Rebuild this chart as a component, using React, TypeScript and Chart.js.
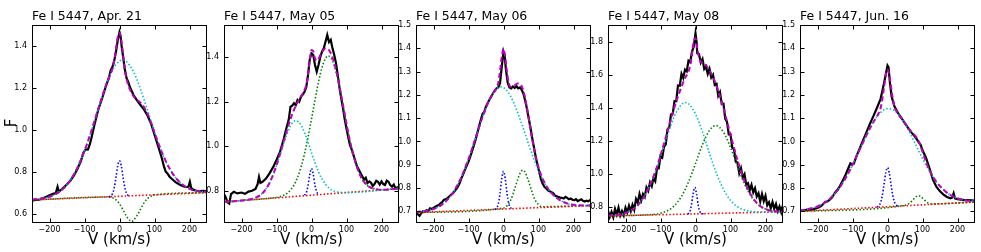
import React, { useEffect, useRef } from "react";
import { Chart, registerables } from "chart.js";

Chart.register(...registerables);

type Pt = [number, number];

// ---------- shared axis data ----------
const vTicks = [-200, -100, 0, 100, 200];
const vMin = -250;
const vMax = 250;
const xLabel = "V (km/s)";
const yLabel = "F";

// ---------- Apr. 21 ----------
const apr21Title = "Fe I 5447, Apr. 21";
const apr21FTicks = [0.6, 0.8, 1.0, 1.2, 1.4];
const apr21Range: Pt = [0.555, 1.5];
const apr21Obs: Pt[] = [
  [-250, 0.662], [-240, 0.665], [-230, 0.666], [-220, 0.673], [-210, 0.679], [-200, 0.687], [-190, 0.694],
  [-182, 0.698], [-177, 0.728], [-173, 0.704], [-165, 0.716], [-158, 0.727], [-150, 0.74], [-140, 0.758],
  [-130, 0.782], [-120, 0.814], [-110, 0.852], [-103, 0.892], [-97, 0.905], [-90, 0.906], [-85, 0.93],
  [-80, 0.962], [-70, 1.035], [-60, 1.1], [-50, 1.148], [-40, 1.202], [-30, 1.25], [-25, 1.285], [-20, 1.3],
  [-15, 1.33], [-10, 1.372], [-5, 1.428], [0, 1.466], [3, 1.448], [6, 1.4], [10, 1.352], [15, 1.29],
  [20, 1.247], [25, 1.228], [30, 1.203], [40, 1.166], [50, 1.14], [60, 1.118], [70, 1.096], [80, 1.068],
  [90, 1.03], [100, 0.976], [110, 0.924], [120, 0.87], [127, 0.825], [132, 0.8], [137, 0.792], [143, 0.776],
  [150, 0.765], [160, 0.75], [170, 0.74], [180, 0.732], [190, 0.726], [197, 0.728], [201, 0.752], [205, 0.722],
  [212, 0.713], [220, 0.709], [230, 0.707], [240, 0.708], [250, 0.706],
];
const apr21Fit: Pt[] = [
  [-250, 0.666], [-200, 0.68], [-180, 0.695], [-160, 0.72], [-140, 0.76], [-120, 0.82], [-100, 0.899],
  [-80, 0.996], [-60, 1.104], [-40, 1.206], [-30, 1.247], [-20, 1.293], [-15, 1.331], [-10, 1.388],
  [-5, 1.443], [0, 1.462], [5, 1.429], [10, 1.361], [15, 1.292], [20, 1.244], [30, 1.191], [40, 1.16],
  [50, 1.143], [60, 1.129], [70, 1.109], [80, 1.077], [90, 1.034], [100, 0.987], [120, 0.897], [140, 0.824],
  [160, 0.772], [180, 0.739], [200, 0.718], [220, 0.708], [250, 0.703],
];
const apr21Broad: Pt[] = [
  [-250, 0.666], [-200, 0.68], [-180, 0.695], [-160, 0.72], [-140, 0.76], [-120, 0.82], [-100, 0.899],
  [-80, 0.996], [-60, 1.104], [-40, 1.206], [-20, 1.286], [0, 1.328], [10, 1.333], [20, 1.325], [40, 1.277],
  [60, 1.194], [80, 1.093], [100, 0.989], [120, 0.897], [140, 0.824], [160, 0.772], [180, 0.739], [200, 0.718],
  [220, 0.708], [250, 0.703],
];
const apr21Narrow: Pt[] = [
  [-30, 0.68], [-25, 0.684], [-20, 0.695], [-15, 0.723], [-10, 0.774], [-5, 0.828], [0, 0.852], [5, 0.829],
  [10, 0.775], [15, 0.725], [20, 0.697], [25, 0.686], [30, 0.684],
];
const apr21Third: Pt[] = [
  [-250, 0.665], [-40, 0.679], [-20, 0.675], [-10, 0.665], [0, 0.646], [10, 0.618], [20, 0.587], [30, 0.567],
  [35, 0.562], [40, 0.568], [50, 0.59], [60, 0.621], [70, 0.651], [80, 0.672], [90, 0.682], [100, 0.689],
  [250, 0.7],
];
const apr21Cont: Pt[] = [[-250, 0.665], [250, 0.7]];

// ---------- May 05 ----------
const may05Title = "Fe I 5447, May 05";
const may05FTicks = [0.8, 1.0, 1.2, 1.4];
const may05Range: Pt = [0.655, 1.545];
const may05Obs: Pt[] = [
  [-250, 0.785], [-245, 0.77], [-240, 0.748], [-235, 0.742], [-230, 0.785], [-222, 0.795], [-212, 0.788],
  [-200, 0.792], [-190, 0.786], [-180, 0.796], [-170, 0.8], [-160, 0.808], [-154, 0.83], [-150, 0.862],
  [-146, 0.835], [-140, 0.84], [-130, 0.855], [-120, 0.878], [-110, 0.905], [-100, 0.938], [-90, 0.975],
  [-80, 1.028], [-72, 1.08], [-65, 1.12], [-60, 1.178], [-55, 1.182], [-50, 1.193], [-45, 1.185], [-40, 1.208],
  [-35, 1.2], [-30, 1.223], [-25, 1.232], [-20, 1.245], [-15, 1.265], [-10, 1.32], [-5, 1.39], [0, 1.418],
  [5, 1.41], [10, 1.365], [15, 1.335], [20, 1.365], [25, 1.4], [30, 1.425], [35, 1.44], [40, 1.47], [45, 1.5],
  [50, 1.468], [55, 1.478], [60, 1.44], [65, 1.41], [70, 1.373], [75, 1.32], [80, 1.262], [85, 1.215],
  [90, 1.17], [95, 1.12], [100, 1.08], [105, 1.04], [110, 1.005], [115, 0.985], [120, 0.96], [125, 0.935],
  [130, 0.91], [140, 0.88], [150, 0.85], [155, 0.858], [160, 0.835], [165, 0.842], [170, 0.836], [175, 0.822],
  [180, 0.83], [185, 0.845], [190, 0.84], [195, 0.828], [200, 0.842], [205, 0.83], [210, 0.826], [215, 0.845],
  [220, 0.84], [225, 0.825], [230, 0.818], [235, 0.828], [240, 0.81], [245, 0.815], [250, 0.803],
];
const may05Fit: Pt[] = [
  [-250, 0.75], [-200, 0.756], [-160, 0.769], [-140, 0.789], [-120, 0.835], [-100, 0.914], [-80, 1.019],
  [-60, 1.122], [-50, 1.164], [-40, 1.197], [-30, 1.224], [-20, 1.253], [-15, 1.275], [-10, 1.322],
  [-5, 1.388], [0, 1.433], [5, 1.426], [10, 1.395], [15, 1.385], [20, 1.393], [30, 1.423], [40, 1.439],
  [50, 1.432], [60, 1.399], [70, 1.343], [80, 1.27], [90, 1.186], [100, 1.1], [110, 1.023], [120, 0.957],
  [140, 0.866], [160, 0.823], [180, 0.809], [200, 0.804], [250, 0.81],
];
const may05Broad: Pt[] = [
  [-250, 0.75], [-200, 0.756], [-160, 0.769], [-140, 0.789], [-120, 0.835], [-100, 0.912], [-80, 1.011],
  [-60, 1.092], [-45, 1.115], [-30, 1.095], [-10, 1.019], [0, 0.971], [10, 0.925], [20, 0.885], [30, 0.853],
  [50, 0.812], [70, 0.796], [100, 0.792], [250, 0.81],
];
const may05Narrow: Pt[] = [
  [-20, 0.78], [-15, 0.79], [-10, 0.822], [-5, 0.872], [0, 0.9], [5, 0.874], [10, 0.824], [15, 0.794], [20, 0.784],
];
const may05Third: Pt[] = [
  [-250, 0.75], [-200, 0.756], [-150, 0.762], [-120, 0.766], [-100, 0.77], [-80, 0.779], [-60, 0.803],
  [-40, 0.859], [-20, 0.966], [0, 1.122], [10, 1.208], [20, 1.289], [30, 1.354], [40, 1.395], [48, 1.406],
  [60, 1.384], [70, 1.335], [80, 1.266], [90, 1.184], [100, 1.1], [110, 1.023], [120, 0.957], [140, 0.866],
  [160, 0.823], [180, 0.809], [200, 0.804], [250, 0.81],
];
const may05Cont: Pt[] = [[-250, 0.75], [250, 0.81]];

// ---------- May 06 ----------
const may06Title = "Fe I 5447, May 06";
const may06FTicks = [0.7, 0.8, 0.9, 1.0, 1.1, 1.2, 1.3, 1.4, 1.5];
const may06Range: Pt = [0.65, 1.5];
const may06Obs: Pt[] = [
  [-250, 0.693], [-245, 0.688], [-240, 0.681], [-235, 0.692], [-230, 0.7], [-225, 0.698], [-220, 0.705],
  [-215, 0.702], [-210, 0.713], [-205, 0.71], [-200, 0.715], [-195, 0.72], [-190, 0.724], [-185, 0.727],
  [-180, 0.734], [-175, 0.74], [-170, 0.75], [-165, 0.752], [-160, 0.757], [-155, 0.764], [-150, 0.771],
  [-145, 0.777], [-140, 0.786], [-135, 0.795], [-130, 0.807], [-125, 0.823], [-120, 0.843], [-115, 0.86],
  [-110, 0.879], [-105, 0.897], [-100, 0.914], [-95, 0.935], [-90, 0.957], [-85, 0.982], [-80, 1.007],
  [-75, 1.035], [-70, 1.064], [-65, 1.092], [-60, 1.118], [-55, 1.127], [-50, 1.15], [-45, 1.165],
  [-40, 1.18], [-35, 1.193], [-30, 1.207], [-25, 1.218], [-20, 1.228], [-15, 1.232], [-10, 1.25], [-5, 1.32],
  [0, 1.386], [3, 1.372], [7, 1.308], [12, 1.252], [17, 1.232], [22, 1.228], [27, 1.236], [32, 1.23],
  [37, 1.238], [42, 1.228], [47, 1.232], [52, 1.222], [57, 1.205], [62, 1.175], [67, 1.14], [72, 1.1],
  [77, 1.06], [82, 1.015], [87, 0.975], [92, 0.935], [97, 0.9], [102, 0.87], [107, 0.838], [112, 0.818],
  [117, 0.805], [122, 0.798], [127, 0.79], [132, 0.786], [137, 0.782], [142, 0.778], [147, 0.768],
  [152, 0.765], [157, 0.762], [162, 0.759], [167, 0.758], [172, 0.755], [177, 0.762], [182, 0.758],
  [187, 0.752], [192, 0.755], [197, 0.75], [202, 0.748], [207, 0.752], [212, 0.744], [217, 0.748],
  [222, 0.752], [227, 0.745], [232, 0.742], [237, 0.746], [242, 0.743], [247, 0.748], [250, 0.752],
];
const may06Fit: Pt[] = [
  [-250, 0.696], [-200, 0.71], [-175, 0.73], [-150, 0.768], [-125, 0.832], [-100, 0.925], [-80, 1.014],
  [-60, 1.104], [-40, 1.18], [-20, 1.23], [-15, 1.252], [-10, 1.301], [-5, 1.363], [0, 1.397], [5, 1.362],
  [10, 1.298], [15, 1.251], [20, 1.235], [30, 1.239], [40, 1.249], [50, 1.243], [60, 1.199], [70, 1.119],
  [80, 1.028], [90, 0.947], [100, 0.888], [110, 0.847], [120, 0.815], [140, 0.774], [160, 0.749],
  [180, 0.735], [200, 0.728], [250, 0.725],
];
const may06Broad: Pt[] = [
  [-250, 0.696], [-200, 0.71], [-175, 0.73], [-150, 0.768], [-125, 0.832], [-100, 0.925], [-80, 1.014],
  [-60, 1.104], [-40, 1.18], [-20, 1.225], [-8, 1.234], [0, 1.231], [10, 1.218], [20, 1.195], [30, 1.164],
  [40, 1.126], [50, 1.085], [60, 1.041], [70, 0.996], [80, 0.953], [90, 0.912], [100, 0.875], [120, 0.815],
  [140, 0.774], [160, 0.749], [200, 0.728], [250, 0.725],
];
const may06Narrow: Pt[] = [
  [-25, 0.709], [-20, 0.713], [-15, 0.731], [-10, 0.776], [-5, 0.84], [0, 0.872], [5, 0.84], [10, 0.778],
  [15, 0.733], [20, 0.716], [25, 0.712],
];
const may06Third: Pt[] = [
  [-250, 0.695], [0, 0.714], [10, 0.724], [20, 0.746], [30, 0.787], [40, 0.835], [50, 0.871], [55, 0.876],
  [60, 0.872], [70, 0.837], [80, 0.79], [90, 0.75], [100, 0.729], [110, 0.72], [250, 0.725],
];
const may06Cont: Pt[] = [[-250, 0.695], [250, 0.725]];

// ---------- May 08 ----------
const may08Title = "Fe I 5447, May 08";
const may08FTicks = [0.8, 1.0, 1.2, 1.4, 1.6, 1.8];
const may08Range: Pt = [0.705, 1.9];
const may08Obs: Pt[] = [
  [-250, 0.78], [-245, 0.741], [-240, 0.772], [-235, 0.74], [-230, 0.79], [-225, 0.756], [-220, 0.798],
  [-215, 0.75], [-210, 0.777], [-205, 0.75], [-200, 0.798], [-195, 0.769], [-190, 0.81], [-185, 0.777],
  [-180, 0.815], [-175, 0.785], [-170, 0.85], [-165, 0.827], [-160, 0.88], [-155, 0.842], [-150, 0.88],
  [-145, 0.862], [-140, 0.92], [-135, 0.9], [-130, 0.95], [-125, 0.927], [-120, 0.975], [-115, 0.957],
  [-110, 1.035], [-105, 1.035], [-100, 1.11], [-95, 1.1], [-90, 1.165], [-85, 1.18], [-80, 1.27],
  [-75, 1.28], [-70, 1.36], [-65, 1.365], [-60, 1.44], [-55, 1.44], [-50, 1.535], [-45, 1.533], [-40, 1.605],
  [-35, 1.58], [-30, 1.63], [-25, 1.62], [-20, 1.685], [-15, 1.677], [-10, 1.74], [-5, 1.77], [0, 1.85],
  [3, 1.8], [5, 1.73], [10, 1.725], [15, 1.673], [20, 1.695], [25, 1.635], [30, 1.65], [35, 1.605],
  [40, 1.635], [45, 1.583], [50, 1.6], [55, 1.538], [60, 1.545], [65, 1.473], [70, 1.495], [75, 1.423],
  [80, 1.425], [85, 1.333], [90, 1.315], [95, 1.24], [100, 1.24], [105, 1.16], [110, 1.15], [115, 1.075],
  [120, 1.07], [125, 1.005], [130, 1.035], [135, 0.98], [140, 1.0], [145, 0.935], [150, 0.945], [155, 0.902],
  [160, 0.935], [165, 0.89], [170, 0.915], [175, 0.865], [180, 0.885], [185, 0.835], [190, 0.88],
  [195, 0.837], [200, 0.87], [205, 0.812], [210, 0.83], [215, 0.793], [220, 0.832], [225, 0.791],
  [230, 0.82], [235, 0.777], [240, 0.805], [245, 0.77], [250, 0.815],
];
const may08Fit: Pt[] = [
  [-250, 0.749], [-200, 0.765], [-180, 0.786], [-160, 0.824], [-140, 0.89], [-120, 0.986], [-100, 1.113],
  [-80, 1.259], [-60, 1.404], [-40, 1.528], [-30, 1.579], [-20, 1.619], [-15, 1.657], [-10, 1.724],
  [-5, 1.803], [0, 1.82], [5, 1.762], [10, 1.704], [15, 1.679], [20, 1.672], [30, 1.656], [40, 1.626],
  [50, 1.586], [60, 1.533], [70, 1.469], [80, 1.397], [90, 1.319], [100, 1.238], [110, 1.159], [120, 1.084],
  [140, 0.957], [160, 0.869], [180, 0.816], [200, 0.789], [225, 0.776], [250, 0.774],
];
const may08Broad: Pt[] = [
  [-250, 0.749], [-200, 0.765], [-180, 0.786], [-160, 0.824], [-140, 0.889], [-120, 0.983], [-100, 1.104],
  [-80, 1.236], [-60, 1.351], [-40, 1.42], [-29, 1.432], [-20, 1.425], [0, 1.363], [20, 1.254], [40, 1.124],
  [60, 1.003], [80, 0.908], [100, 0.842], [120, 0.803], [150, 0.778], [200, 0.771], [250, 0.773],
];
const may08Narrow: Pt[] = [
  [-22, 0.76], [-17, 0.77], [-12, 0.809], [-7, 0.879], [-2, 0.92], [3, 0.879], [8, 0.809], [13, 0.772],
  [18, 0.762], [23, 0.761],
];
const may08Third: Pt[] = [
  [-250, 0.748], [-200, 0.75], [-150, 0.753], [-120, 0.757], [-100, 0.764], [-80, 0.779], [-60, 0.81],
  [-40, 0.866], [-20, 0.953], [0, 1.064], [20, 1.179], [40, 1.264], [58, 1.293], [80, 1.253], [100, 1.161],
  [120, 1.047], [140, 0.941], [160, 0.863], [180, 0.814], [200, 0.789], [225, 0.776], [250, 0.774],
];
const may08Cont: Pt[] = [[-250, 0.7475], [250, 0.7725]];

// ---------- Jun. 16 ----------
const jun16Title = "Fe I 5447, Jun. 16";
const jun16FTicks = [0.7, 0.8, 0.9, 1.0, 1.1, 1.2, 1.3, 1.4, 1.5];
const jun16Range: Pt = [0.65, 1.5];
const jun16Obs: Pt[] = [
  [-250, 0.704], [-240, 0.702], [-230, 0.707], [-220, 0.706], [-210, 0.71], [-200, 0.714], [-190, 0.722],
  [-183, 0.733], [-178, 0.74], [-172, 0.742], [-165, 0.75], [-158, 0.76], [-150, 0.78], [-140, 0.798],
  [-130, 0.826], [-120, 0.856], [-112, 0.885], [-106, 0.906], [-101, 0.902], [-96, 0.905], [-90, 0.932],
  [-80, 0.968], [-70, 1.004], [-60, 1.04], [-50, 1.076], [-40, 1.11], [-30, 1.145], [-20, 1.182],
  [-15, 1.215], [-10, 1.25], [-5, 1.288], [0, 1.326], [3, 1.318], [7, 1.25], [12, 1.192], [20, 1.15],
  [30, 1.122], [40, 1.1], [50, 1.078], [60, 1.055], [70, 1.036], [80, 1.018], [90, 0.995], [95, 0.985],
  [100, 0.962], [110, 0.93], [120, 0.885], [130, 0.835], [140, 0.805], [150, 0.786], [160, 0.772],
  [170, 0.762], [180, 0.756], [185, 0.76], [189, 0.778], [193, 0.756], [200, 0.752], [210, 0.75],
  [220, 0.748], [230, 0.748], [240, 0.747], [250, 0.746],
];
const jun16Fit: Pt[] = [
  [-250, 0.703], [-200, 0.721], [-175, 0.742], [-150, 0.777], [-125, 0.829], [-100, 0.899], [-80, 0.963],
  [-60, 1.027], [-40, 1.084], [-30, 1.108], [-20, 1.142], [-15, 1.179], [-10, 1.231], [-5, 1.285], [0, 1.309],
  [5, 1.287], [10, 1.236], [15, 1.185], [20, 1.15], [30, 1.119], [40, 1.099], [50, 1.078], [60, 1.056],
  [70, 1.038], [80, 1.023], [90, 0.997], [100, 0.956], [110, 0.912], [120, 0.876], [140, 0.826], [160, 0.793],
  [180, 0.77], [200, 0.756], [225, 0.747], [250, 0.743],
];
const jun16Broad: Pt[] = [
  [-250, 0.703], [-200, 0.721], [-175, 0.742], [-150, 0.777], [-125, 0.829], [-100, 0.899], [-80, 0.963],
  [-60, 1.027], [-40, 1.084], [-20, 1.124], [0, 1.141], [20, 1.132], [40, 1.099], [60, 1.049], [80, 0.988],
  [100, 0.927], [120, 0.872], [140, 0.826], [160, 0.793], [180, 0.77], [200, 0.756], [225, 0.747], [250, 0.743],
];
const jun16Narrow: Pt[] = [
  [-30, 0.719], [-25, 0.723], [-20, 0.737], [-15, 0.767], [-10, 0.815], [-5, 0.866], [0, 0.888], [5, 0.866],
  [10, 0.817], [15, 0.769], [20, 0.74], [25, 0.727], [30, 0.723],
];
const jun16Third: Pt[] = [
  [-250, 0.7], [50, 0.726], [60, 0.732], [70, 0.745], [80, 0.761], [88, 0.767], [95, 0.764], [105, 0.749],
  [115, 0.737], [125, 0.732], [250, 0.74],
];
const jun16Cont: Pt[] = [[-250, 0.7], [250, 0.74]];

// ---------- panel table ----------
type PanelData = {
  title: string; fTicks: number[]; range: Pt; obs: Pt[]; fit: Pt[]; broad: Pt[];
  narrow: Pt[]; third: Pt[]; cont: Pt[]; showY: boolean;
};

const panels: PanelData[] = [
  { title: apr21Title, fTicks: apr21FTicks, range: apr21Range, obs: apr21Obs, fit: apr21Fit, broad: apr21Broad, narrow: apr21Narrow, third: apr21Third, cont: apr21Cont, showY: true },
  { title: may05Title, fTicks: may05FTicks, range: may05Range, obs: may05Obs, fit: may05Fit, broad: may05Broad, narrow: may05Narrow, third: may05Third, cont: may05Cont, showY: false },
  { title: may06Title, fTicks: may06FTicks, range: may06Range, obs: may06Obs, fit: may06Fit, broad: may06Broad, narrow: may06Narrow, third: may06Third, cont: may06Cont, showY: false },
  { title: may08Title, fTicks: may08FTicks, range: may08Range, obs: may08Obs, fit: may08Fit, broad: may08Broad, narrow: may08Narrow, third: may08Third, cont: may08Cont, showY: false },
  { title: jun16Title, fTicks: jun16FTicks, range: jun16Range, obs: jun16Obs, fit: jun16Fit, broad: jun16Broad, narrow: jun16Narrow, third: jun16Third, cont: jun16Cont, showY: false },
];

// ---------- layout ----------
const CANVAS_W = 213;
const CANVAS_H = 252;
const PANEL_STEP = 192;
const AXIS_W = 32;
const TOP = 25;
const X_AXIS_H = 29;
const FONT = '"DejaVu Sans", "Liberation Sans", sans-serif';

const fmtV = (v: number) => (v < 0 ? "\u2212" + Math.abs(v) : String(v));

const decorPlugin = {
  id: "decor",
  afterDraw(chart: any) {
    const cfg = chart.options.plugins.decor;
    const { ctx, chartArea: a, scales } = chart;
    ctx.save();
    ctx.strokeStyle = "#000";
    ctx.lineWidth = 1;
    const l = Math.round(a.left) + 0.5;
    const r = Math.round(a.right) - 0.5;
    const t = Math.round(a.top) + 0.5;
    const b = Math.round(a.bottom) - 0.5;
    ctx.beginPath();
    for (const v of cfg.xTicks) {
      const x = Math.round(scales.x.getPixelForValue(v)) + 0.5;
      ctx.moveTo(x, b); ctx.lineTo(x, b - 4);
      ctx.moveTo(x, t); ctx.lineTo(x, t + 4);
    }
    for (const v of cfg.yTicks) {
      const y = Math.round(scales.y.getPixelForValue(v)) + 0.5;
      ctx.moveTo(l, y); ctx.lineTo(l + 4, y);
      ctx.moveTo(r, y); ctx.lineTo(r - 4, y);
    }
    ctx.stroke();
    ctx.strokeRect(l, t, r - l, b - t);

    ctx.fillStyle = "#000";
    ctx.textBaseline = "alphabetic";
    ctx.font = `12.5px ${FONT}`;
    ctx.textAlign = "left";
    ctx.fillText(cfg.title, a.left, 20);
    ctx.font = `15px ${FONT}`;
    ctx.textAlign = "center";
    ctx.fillText(xLabel, (a.left + a.right) / 2, 244);
    if (cfg.showY) {
      ctx.translate(15.5, 123);
      ctx.rotate(-Math.PI / 2);
      ctx.font = `15px ${FONT}`;
      ctx.textAlign = "center";
      ctx.fillText(yLabel, 0, 0);
    }
    ctx.restore();
  },
};

function line(data: Pt[], color: string, width: number, dash: number[], smooth: boolean, dashOffset = 0) {
  return {
    data: data.map(([x, y]) => ({ x, y })),
    borderColor: color,
    backgroundColor: color,
    borderWidth: width,
    borderDash: dash,
    borderDashOffset: dashOffset,
    pointRadius: 0,
    fill: false,
    tension: 0,
    cubicInterpolationMode: smooth ? "monotone" : "default",
  };
}

function Panel({ p, left }: { p: PanelData; left: number }) {
  const ref = useRef<HTMLCanvasElement | null>(null);
  useEffect(() => {
    if (!ref.current) return;
    const dot = [1.5, 2];
    const chart = new Chart(ref.current, {
      type: "line",
      data: {
        datasets: [
          line(p.fit, "#c000c0", 2, [5, 3], true),
          line(p.broad, "#00c0c0", 1.6, dot, true),
          line(p.narrow, "#0000ff", 1.6, dot, true),
          line(p.cont, "#ff0000", 1.6, dot, false, 1.7),
          line(p.third, "#008000", 1.6, dot, true),
          line(p.obs, "#000000", 2.2, [], false),
        ] as any,
      },
      options: {
        responsive: false,
        animation: false,
        devicePixelRatio: 1,
        events: [],
        layout: { padding: { left: 0, right: CANVAS_W - AXIS_W - 175, top: TOP, bottom: 0 } },
        plugins: {
          legend: { display: false },
          tooltip: { enabled: false },
          title: { display: false },
          decor: { title: p.title, xTicks: vTicks, yTicks: p.fTicks, showY: p.showY },
        } as any,
        scales: {
          x: {
            type: "linear",
            min: vMin,
            max: vMax,
            afterFit: (s: any) => { s.height = X_AXIS_H; },
            afterBuildTicks: (s: any) => { s.ticks = vTicks.map((v) => ({ value: v })); },
            grid: { display: false, drawTicks: false },
            border: { display: false },
            ticks: {
              autoSkip: false, maxRotation: 0, padding: 2, color: "#000",
              font: { family: FONT, size: 8 },
              callback: (v: any) => fmtV(Number(v)),
            },
          },
          y: {
            type: "linear",
            min: p.range[0],
            max: p.range[1],
            afterFit: (s: any) => { s.width = AXIS_W; },
            afterBuildTicks: (s: any) => { s.ticks = p.fTicks.map((v) => ({ value: v })); },
            grid: { display: false, drawTicks: false },
            border: { display: false },
            ticks: {
              autoSkip: false, padding: 5, color: "#000",
              font: { family: FONT, size: 8 },
              callback: (v: any) => Number(v).toFixed(1),
            },
          },
        },
      } as any,
      plugins: [decorPlugin],
    });
    return () => chart.destroy();
  }, [p]);
  return (
    <canvas
      ref={ref}
      width={CANVAS_W}
      height={CANVAS_H}
      style={{ position: "absolute", left, top: 0, width: CANVAS_W, height: CANVAS_H }}
    />
  );
}

export default function App() {
  return (
    <div style={{ position: "fixed", left: 0, top: 0, width: 981, height: 252, background: "#fff", overflow: "hidden" }}>
      {panels.map((p, i) => (
        <Panel key={i} p={p} left={i * PANEL_STEP} />
      ))}
    </div>
  );
}
